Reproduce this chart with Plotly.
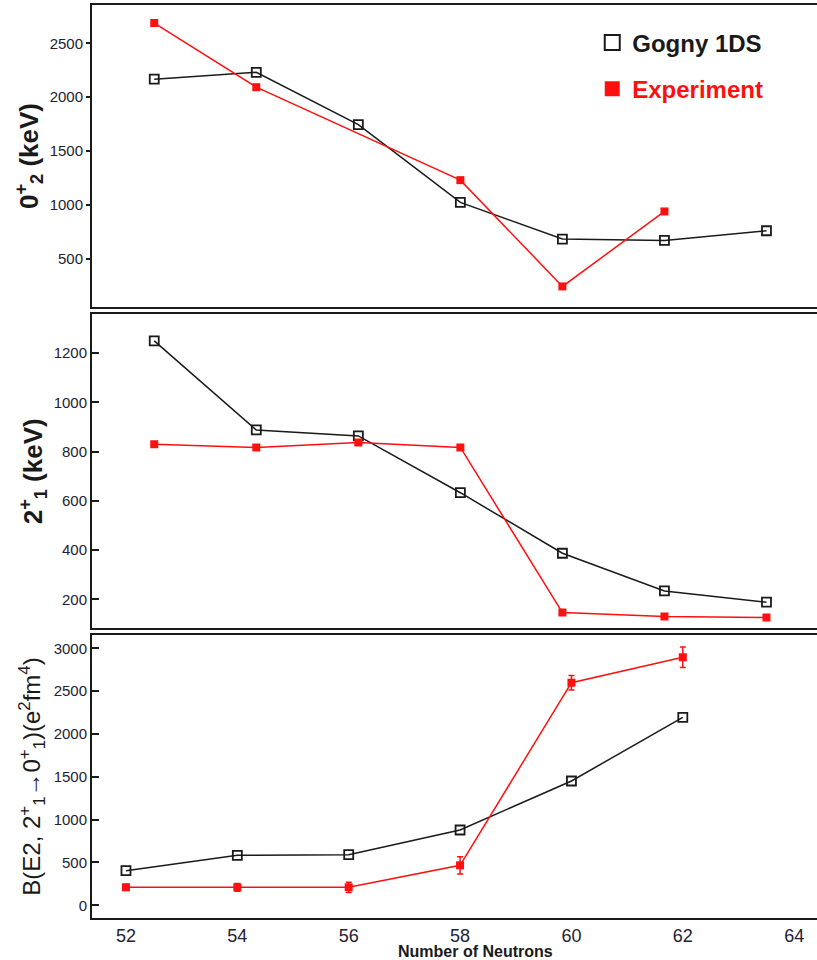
import plotly.graph_objects as go

# ---- data ----
n_top = [52, 54, 56, 58, 60, 62, 64]
e02_gogny = [2167, 2231, 1746, 1025, 685, 672, 762]
n_e02_exp = [52, 54, 58, 60, 62]
e02_exp = [2688, 2093, 1231, 246, 941]

e21_gogny = [1250, 888, 864, 633, 387, 234, 188]
e21_exp = [830, 817, 837, 817, 146, 130, 126]

n_be2 = [52, 54, 56, 58, 60, 62]
be2_gogny = [404, 584, 591, 879, 1451, 2194]
be2_exp = [210, 210, 210, 467, 2598, 2895]
be2_exp_err = [35, 45, 60, 100, 85, 120]

top_ticks = [500, 1000, 1500, 2000, 2500]
mid_ticks = [200, 400, 600, 800, 1000, 1200]
bot_ticks = [0, 500, 1000, 1500, 2000, 2500, 3000]
x_ticks = [52, 54, 56, 58, 60, 62, 64]

BLACK = "#1a1a1a"
RED = "#ff1010"
FONT = "Liberation Sans Narrow, Arial Narrow, Liberation Sans, Arial, sans-serif"

gogny_style = dict(mode="lines+markers",
                   line=dict(color=BLACK, width=1.5),
                   marker=dict(symbol="square-open", size=9, color=BLACK,
                               line=dict(width=1.8, color=BLACK)),
                   showlegend=False)
exp_style = dict(mode="lines+markers",
                 line=dict(color=RED, width=1.5),
                 marker=dict(symbol="square", size=8, color=RED),
                 showlegend=False)

fig = go.Figure()
fig.add_trace(go.Scatter(x=n_top, y=e02_gogny, xaxis="x", yaxis="y", **gogny_style))
fig.add_trace(go.Scatter(x=n_e02_exp, y=e02_exp, xaxis="x", yaxis="y", **exp_style))
fig.add_trace(go.Scatter(x=n_top, y=e21_gogny, xaxis="x2", yaxis="y2", **gogny_style))
fig.add_trace(go.Scatter(x=n_top, y=e21_exp, xaxis="x2", yaxis="y2", **exp_style))
fig.add_trace(go.Scatter(x=n_be2, y=be2_gogny, xaxis="x3", yaxis="y3", **gogny_style))
fig.add_trace(go.Scatter(x=n_be2, y=be2_exp, xaxis="x3", yaxis="y3",
                         error_y=dict(type="data", array=be2_exp_err, color=RED,
                                      thickness=1.5, width=3),
                         **exp_style))

# legend-only entries
fig.add_trace(go.Scatter(x=[None], y=[None], mode="markers", name="<b>Gogny 1DS</b>",
                         legendgroup="g",
                         marker=dict(symbol="square-open", size=15, color=BLACK,
                                     line=dict(width=2, color=BLACK))))
fig.add_trace(go.Scatter(x=[None], y=[None], mode="markers",
                         name="<span style='color:#ff1010'><b>Experiment</b></span>",
                         legendgroup="e",
                         marker=dict(symbol="square", size=15, color=RED)))

frame = dict(showline=True, linecolor=BLACK, linewidth=2, showgrid=False,
             zeroline=False)

title_font = dict(family="Liberation Sans, Arial, sans-serif", size=26, color=BLACK)
tick_font = dict(family=FONT, size=15, color="#222233")

fig.update_layout(
    width=817, height=960,
    margin=dict(l=92, r=0, t=5, b=42),
    paper_bgcolor="white", plot_bgcolor="white",
    font=dict(family=FONT, color=BLACK),
    xaxis=dict(domain=[0, 1], range=[50.78, 64.99], anchor="y", showticklabels=False,
               ticks="", mirror=True, **frame),
    yaxis=dict(domain=[0.6692, 1.0], range=[55, 2855], anchor="x",
               tickvals=top_ticks, ticks="outside", ticklen=4, tickwidth=1.5,
               tickcolor=BLACK, tickfont=tick_font,
               title=dict(text="<b>0<sup>+</sup><sub>2</sub> (keV)</b>", font=title_font,
                          standoff=4),
               **frame),
    xaxis2=dict(domain=[0, 1], range=[50.78, 64.99], anchor="y2", showticklabels=False,
                ticks="", mirror=True, **frame),
    yaxis2=dict(domain=[0.3173, 0.6612], range=[82, 1358], anchor="x2",
                tickvals=mid_ticks, ticks="inside", ticklen=7, tickwidth=1.5,
                tickcolor=BLACK, tickfont=tick_font,
                title=dict(text="<b>2<sup>+</sup><sub>1</sub> (keV)</b>", font=title_font,
                           standoff=4),
                **frame),
    xaxis3=dict(domain=[0, 1], range=[51.39, 64.41], anchor="y3",
                tickvals=x_ticks, ticks="", ticklen=0,
                tickfont=dict(family=FONT, size=18, color="#222233"),
                mirror=True, **frame),
    yaxis3=dict(domain=[0, 0.30997], range=[-148, 3155], anchor="x3",
                tickvals=bot_ticks, ticks="inside", ticklen=7, tickwidth=1.5,
                tickcolor=BLACK, tickfont=tick_font,
                title=dict(text="B(E2, 2<sup>+</sup><sub>1</sub>\u21920<sup>+</sup><sub>1</sub>)(e<sup>2</sup>fm<sup>4</sup>)",
                           font=dict(family="Liberation Sans, Arial, sans-serif", size=24, color=BLACK),
                           standoff=6),
                **frame),
    legend=dict(x=0.69, y=0.983, xanchor="left", yanchor="top",
                xref="paper", yref="paper",
                font=dict(family=FONT, size=24, color=BLACK),
                bgcolor="rgba(0,0,0,0)", tracegroupgap=12, itemwidth=30),
    annotations=[dict(text="<b>Number of Neutrons</b>", x=(475 - 92) / 725, y=(918 - 951) / 913,
                      xref="paper", yref="paper", xanchor="center", yanchor="middle",
                      showarrow=False,
                      font=dict(family=FONT, size=16, color=BLACK))],
)

fig.write_html("out.html")
